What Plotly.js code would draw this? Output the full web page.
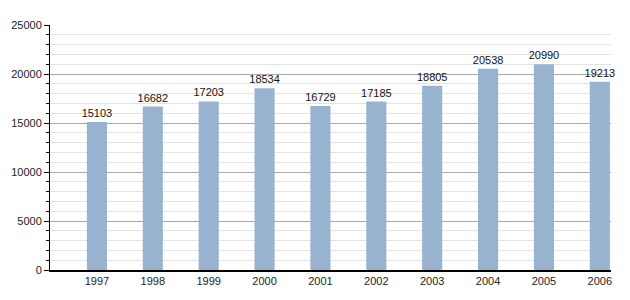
<!DOCTYPE html>
<html><head><meta charset="utf-8">
<script src="https://cdn.plot.ly/plotly-3.0.1.min.js"></script>
<style>html,body{margin:0;padding:0;background:#fff}#c{width:630px;height:300px}</style>
</head><body><div id="c"></div>
<script>
const years = ["1997","1998","1999","2000","2001","2002","2003","2004","2005","2006"];
const population = [15103,16682,17203,18534,16729,17185,18805,20538,20990,19213];
const yTicks = [0,5000,10000,15000,20000,25000];

const idx = years.map((_, i) => i);
const trace = {
  type: 'bar', x: idx, y: population,
  text: population.map(String), textposition: 'outside', cliponaxis: false,
  constraintext: 'none',
  textfont: {family: 'Liberation Sans, Arial, sans-serif', size: 11, color: '#111'},
  marker: {color: '#98b3cf', line: {width: 0}},
  width: 0.36, hoverinfo: 'none'
};
const layout = {
  width: 630, height: 300,
  margin: {l: 50, r: 19, t: 25, b: 30},
  paper_bgcolor: '#fff', plot_bgcolor: '#fff',
  showlegend: false,
  font: {family: 'Liberation Sans, Arial, sans-serif', size: 11, color: '#222'},
  xaxis: {
    type: 'linear', range: [-0.84, 9.2], tickvals: idx, ticktext: years,
    showgrid: false, zeroline: false, showline: true, linecolor: '#000', linewidth: 1.5,
    ticks: '', tickfont: {size: 11, color: '#222'}
  },
  yaxis: {
    range: [0, 25000], tickvals: yTicks, ticktext: yTicks.map(String),
    showgrid: true, gridcolor: '#aaaaaa', gridwidth: 1, zeroline: false,
    showline: true, linecolor: '#000', linewidth: 1,
    ticks: 'outside', ticklen: 5, tickcolor: '#000', tickwidth: 1,
    tickfont: {size: 11, color: '#222'},
    minor: {dtick: 1000, ticks: 'outside', ticklen: 3, tickcolor: '#000', showgrid: true, gridcolor: '#e3e3e3', gridwidth: 1}
  }
};
Plotly.newPlot('c', [trace], layout, {staticPlot: true, displayModeBar: false});
</script></body></html>
